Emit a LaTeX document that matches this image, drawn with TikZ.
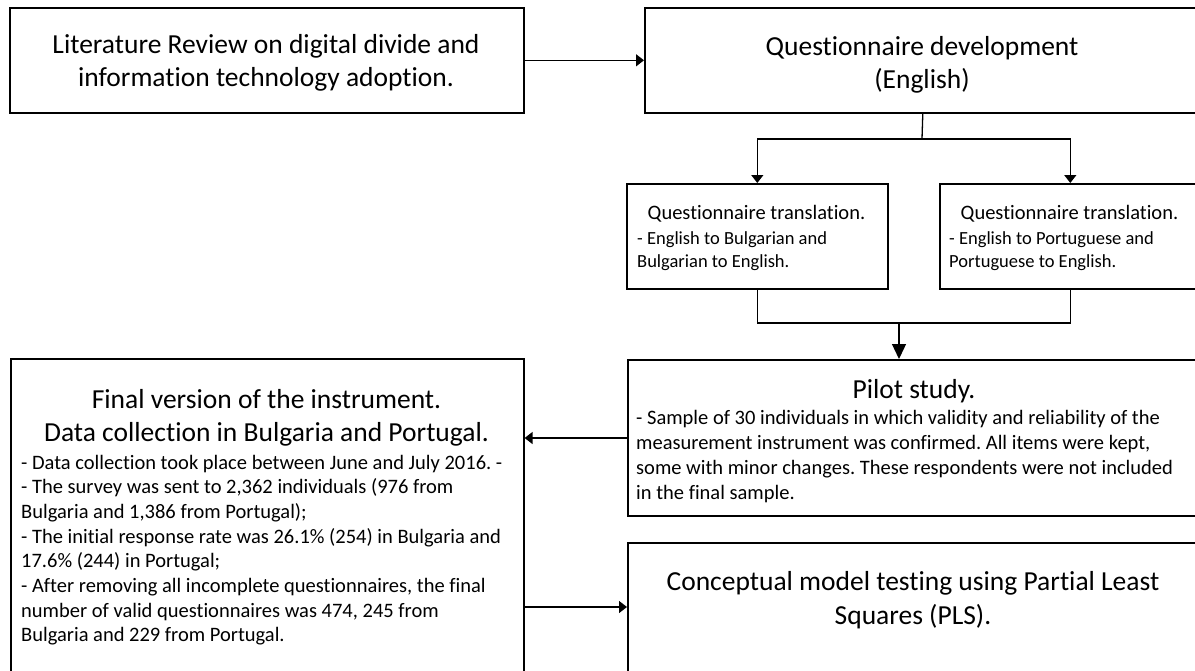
\documentclass[tikz,border=0pt]{standalone}
\usepackage{fontspec}
\setmainfont{Carlito}[Ligatures=NoCommon, RawFeature=-liga]
\usetikzlibrary{arrows.meta}
\frenchspacing
\begin{document}
\begin{tikzpicture}[x=1pt,y=-1pt,
  box/.style={draw, line width=1.6pt, inner sep=0pt, anchor=north west},
  conn/.style={line width=1.3pt},
  arr/.style={conn, -{Triangle[length=8pt,width=12pt]}},
  bigarr/.style={conn, -{Triangle[length=15pt,width=14pt]}},
  big/.style={font=\fontsize{27.5}{33.5}\selectfont, inner sep=0pt, anchor=base},
  mid/.style={font=\fontsize{20.5}{24.8}\selectfont, inner sep=0pt, anchor=base},
  small/.style={font=\fontsize{18.5}{23}\selectfont, inner sep=0pt, anchor=base},
]
\useasboundingbox (0,0) rectangle (1195,670);
\fill[white] (0,0) rectangle (1195,670);
\clip (0,0) rectangle (1195,670);

% boxes
\node[box, minimum width=514pt, minimum height=105pt] (lit) at (9,7) {};
\node[box, minimum width=556pt, minimum height=105pt] (qdev) at (644,7) {};
\node[box, minimum width=261pt, minimum height=105pt] (trL) at (626,183) {};
\node[box, minimum width=261pt, minimum height=105pt] (trR) at (939,183) {};
\node[box, minimum width=573pt, minimum height=156pt] (pilot) at (627,359) {};
\node[box, minimum width=513pt, minimum height=330pt] (final) at (10,358) {};
\node[box, minimum width=573pt, minimum height=150pt] (concept) at (627,542) {};

% texts
\node[big] (litA) at (266,53) {Literature Review on digital divide and};
\node[big] (litB) at (266,86) {information technology adoption.};

\node[big] (qdA) at (922,55) {Questionnaire development};
\node[big] (qdB) at (922,88) {(English)};

\node[mid] (trLt) at (756.5,219) {Questionnaire translation.};
\node[small, anchor=base west] (trLa) at (637,244) {- English to Bulgarian and};
\node[small, anchor=base west] (trLb) at (637,267) {Bulgarian to English.};

\node[mid] (trRt) at (1069.5,219) {Questionnaire translation.};
\node[small, anchor=base west] (trRa) at (949,244) {- English to Portuguese and};
\node[small, anchor=base west] (trRb) at (949,267) {Portuguese to English.};

\node[big] (pilT) at (914,398) {Pilot study.};
\foreach \t [count=\i] in {
  {- Sample of 30 individuals in which validity and reliability of the},
  {measurement instrument was confirmed. All items were kept,},
  {some with minor changes. These respondents were not included},
  {in the final sample.}}
  \node[mid, anchor=base west] (pil\i) at (636,{424+25.3*(\i-1)}) {\t};

\node[big] (finA) at (266.5,408) {Final version of the instrument.};
\node[big] (finB) at (266.5,441) {Data collection in Bulgaria and Portugal.};
\foreach \t [count=\i] in {
  {- Data collection took place between June and July 2016. -},
  {- The survey was sent to 2,362 individuals (976 from},
  {Bulgaria and 1,386 from Portugal);},
  {- The initial response rate was 26.1\% (254) in Bulgaria and},
  {17.6\% (244) in Portugal;},
  {- After removing all incomplete questionnaires, the final},
  {number of valid questionnaires was 474, 245 from},
  {Bulgaria and 229 from Portugal.}}
  \node[mid, anchor=base west] (fin\i) at (21,{469+24.7*(\i-1)}) {\t};

\node[big] (conA) at (913,590) {Conceptual model testing using Partial Least};
\node[big] (conB) at (913,624) {Squares (PLS).};

% connectors
\draw[arr] (lit.east) -- (qdev.west);

\coordinate (split) at (922,139);
\draw[conn] (qdev.south) -- (split);
\draw[arr] (split) -| (trL.north);
\draw[arr] (split) -| (trR.north);

\coordinate (merge) at (899,323);
\draw[conn] (trL.south) |- (merge);
\draw[conn] (trR.south) |- (merge);
\draw[bigarr] (merge) -- (merge |- pilot.north);

\coordinate (pf) at (0,438);
\draw[arr] (pilot.west |- pf) -- (final.east |- pf);
\coordinate (fc) at (0,607);
\draw[arr] (final.east |- fc) -- (concept.west |- fc);
\end{tikzpicture}
\end{document}
